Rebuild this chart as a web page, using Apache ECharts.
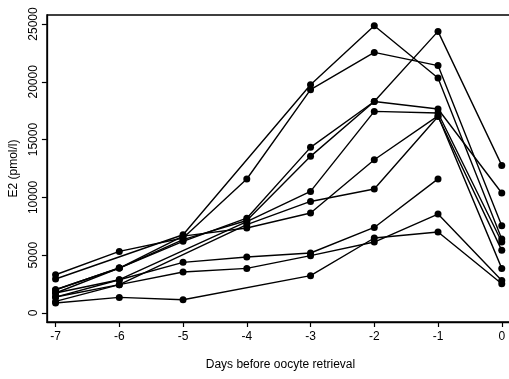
<!DOCTYPE html>
<html>
<head>
<meta charset="utf-8">
<script src="https://cdn.jsdelivr.net/npm/echarts@6/dist/echarts.min.js"></script>
<style>
  html, body { margin: 0; padding: 0; background: #fff; overflow: hidden; }
  #chart { width: 530px; height: 379px; }
</style>
</head>
<body>
<div id="chart"></div>
<script>
// days before retrieval
var days = [-7, -6, -5, -4, -3, -2, -1, 0];
var xTicks = [-7, -6, -5, -4, -3, -2, -1, 0];
var yTicks = [0, 5000, 10000, 15000, 20000, 25000];

// E2 per patient, null = not measured that day
var pA = [2940, null, 6770, null, 19750, 24850, 20330, 6400];
var pB = [3310, 5330, 6490, 11590, 19320, 22540, 21400, 7550];
var pC = [2010, 3890, 6200, 8200, 14330, 18300, 24360, 12770];
var pD = [1730, 3890, 6350, 8000, 13550, 18300, 17650, 10380];
var pE = [1730, 2880, null, 7900, 10520, 17440, 17300, 6140];
var pF = [1380, 2450, null, 7650, 9650, 10730, 17000, 5420];
var pG = [2010, 3890, 6650, 7350, 8650, 13260, 17050, 3860];
var pH = [1380, 2880, 4380, 4840, 5190, 7400, 11600, null];
var pI = [1000, 2450, 3550, 3860, 4960, 6140, 8560, 2820];
var pJ = [870, 1350, 1150, null, 3230, 6490, 7010, 2530];

var patients = [pA, pB, pC, pD, pE, pF, pG, pH, pI, pJ];

var font = "'Liberation Sans', Arial, sans-serif";
var chart = echarts.init(document.getElementById('chart'), null, { renderer: 'canvas' });

var series = patients.map(function(p) {
  return {
    type: 'line',
    data: days.map(function(d, i) { return [d, p[i]]; }),
    connectNulls: true,
    symbol: 'circle',
    symbolSize: 7,
    showAllSymbol: true,
    lineStyle: { color: '#000', width: 1.4 },
    itemStyle: { color: '#000' },
    z: 3
  };
});

// plot frame runs past the right edge of the picture
chart.setOption({
  animation: false,
  grid: { left: 44, top: 15, right: 16, bottom: 57, show: true, borderColor: '#000', borderWidth: 1.3 },
  xAxis: {
    type: 'value',
    min: -7.136,
    max: 0.192,
    name: 'Days before oocyte retrieval',
    nameLocation: 'middle',
    nameGap: 37,
    nameTextStyle: { color: '#000', fontSize: 12, fontFamily: font },
    axisLine: { show: true, onZero: false, lineStyle: { color: '#000', width: 1.3 } },
    axisTick: { show: true, length: 5, customValues: xTicks, lineStyle: { color: '#000', width: 1.2 } },
    axisLabel: { customValues: xTicks, color: '#000', fontSize: 12, fontFamily: font, margin: 9 },
    splitLine: { show: false }
  },
  yAxis: {
    type: 'value',
    min: -778,
    max: 25778,
    name: 'E2 (pmol/l)',
    nameLocation: 'middle',
    nameGap: 26,
    nameTextStyle: { color: '#000', fontSize: 12, fontFamily: font },
    axisLine: { show: true, onZero: false, lineStyle: { color: '#000', width: 1.3 } },
    axisTick: { show: true, length: 5, customValues: yTicks, lineStyle: { color: '#000', width: 1.2 } },
    axisLabel: {
      customValues: yTicks, rotate: 90, color: '#000', fontSize: 12, fontFamily: font, margin: 7,
      formatter: function(v) { return String(v); }
    },
    splitLine: { show: false }
  },
  series: series
});
</script>
</body>
</html>
